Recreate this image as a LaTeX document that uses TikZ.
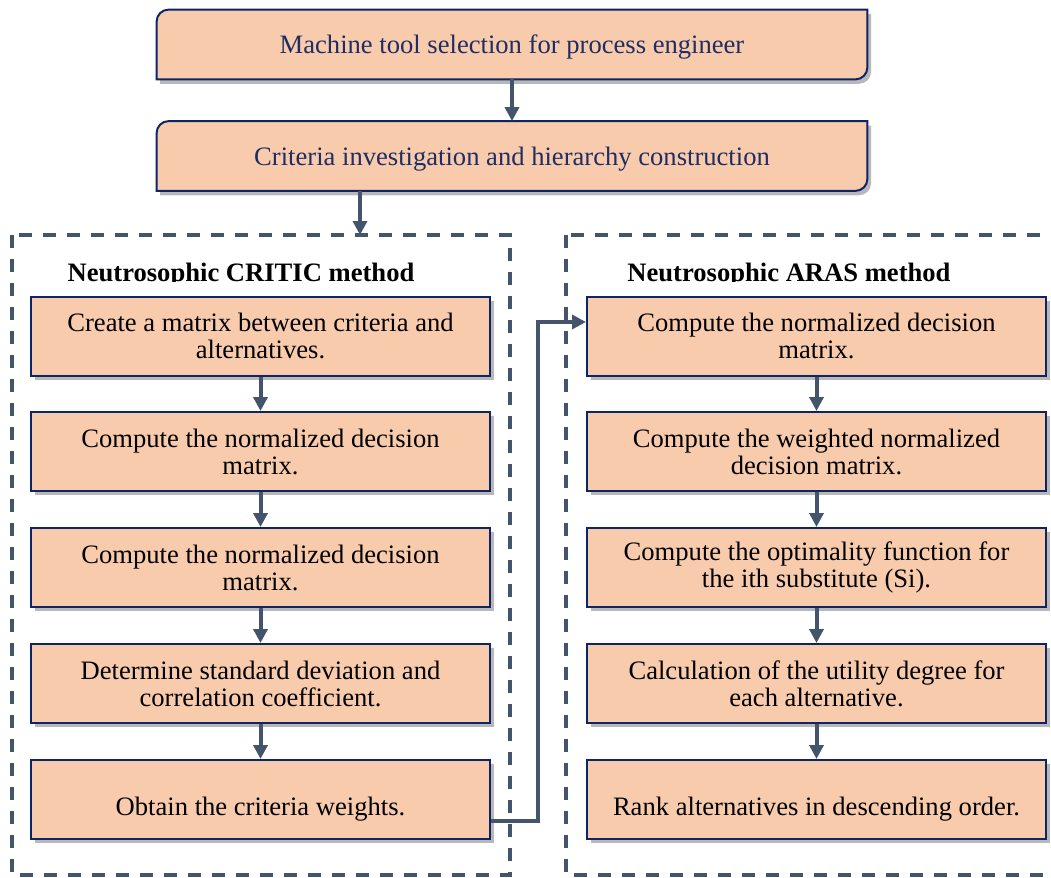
\documentclass[tikz,border=0pt]{standalone}
\usepackage{fontspec}
\setmainfont{Liberation Serif}
\usetikzlibrary{arrows.meta,shadows,backgrounds}
\definecolor{peach}{HTML}{F8CBAD}
\definecolor{navy}{HTML}{0B2566}
\definecolor{slate}{HTML}{44546A}
\definecolor{titleblue}{HTML}{1F2D63}
\tikzset{
  topbox/.style={minimum width=355pt, minimum height=34.5pt, text=titleblue,
    text depth=0pt, font=\fontsize{13.3}{14}\selectfont},
  topshape/.style={draw=navy, line width=1pt, fill=peach,
    drop shadow={shadow xshift=1.8pt, shadow yshift=-2.2pt, fill=black, opacity=.28}},
  stepbox/.style={draw=navy, line width=1pt, fill=peach, minimum width=229.5pt,
    minimum height=39.5pt, align=center, font=\fontsize{13.3}{13.5}\selectfont,
    drop shadow={shadow xshift=1.8pt, shadow yshift=-2.2pt, fill=black, opacity=.28}},
  header/.style={font=\fontsize{13.3}{14}\selectfont\bfseries, inner sep=0pt},
  flow/.style={slate, line width=2pt, -{Triangle[length=7pt,width=7pt]}},
  methodframe/.style={slate, line width=1.8pt, dash pattern=on 6.5pt off 5.5pt},
}
\begin{document}
\begin{tikzpicture}[x=0.5pt,y=-0.5pt]
  \useasboundingbox (0,0) rectangle (1051,878);
  %% title boxes
  \node[topbox] (task) at (512,44.5) {Machine tool selection for process engineer};
  \node[topbox] (crit) at (512,156) {Criteria investigation and hierarchy construction};
  \begin{scope}[on background layer]
    \foreach \b in {task,crit}
      \path[topshape] (\b.south west) [rounded corners=6pt] -- (\b.north west)
        [sharp corners] -- (\b.north east) [rounded corners=6pt] -- (\b.south east)
        [sharp corners] -- cycle;
  \end{scope}
  \draw[flow] (task) -- (crit);

  %% method frames
  \draw[methodframe] (12,235) rectangle (510,875);
  \draw[methodframe] (566,235) rectangle (1075,875);
  \coordinate (critin) at (360,235);
  \draw[flow] (crit.south -| critin) -- (critin);

  \begin{scope}
    \clip (0,245) rectangle (1051,281.5);
    \node[header, anchor=base] (hcritic) at (241,281) {Neutrosophic CRITIC method};
    \node[header, anchor=base] (haras) at (789,281) {Neutrosophic ARAS method};
  \end{scope}

  %% CRITIC steps
  \node[stepbox] (c1) at (260.5,336) {Create a matrix between criteria and\\alternatives.};
  \node[stepbox] (c2) at (260.5,451.5) {Compute the normalized decision\\matrix.};
  \node[stepbox] (c3) at (260.5,567.5) {Compute the normalized decision\\matrix.};
  \node[stepbox] (c4) at (260.5,683.5) {Determine standard deviation and\\correlation coefficient.};
  \node[stepbox] (c5) at (260.5,799.5) {\strut\\[-4.5pt]Obtain the criteria weights.};

  %% ARAS steps
  \node[stepbox] (a1) at (816.5,336) {Compute the normalized decision\\matrix.};
  \node[stepbox] (a2) at (816.5,451.5) {Compute the weighted normalized\\decision matrix.};
  \node[stepbox] (a3) at (816.5,567.5) {Compute the optimality function for\\the ith substitute (Si).};
  \node[stepbox] (a4) at (816.5,683.5) {Calculation of the utility degree for\\each alternative.};
  \node[stepbox] (a5) at (816.5,799.5) {\strut\\[-4.5pt]Rank alternatives in descending order.};

  \foreach \i/\j in {1/2,2/3,3/4,4/5}{
    \draw[flow] (c\i) -- (c\j);
    \draw[flow] (a\i) -- (a\j);
  }

  %% weights into ARAS
  \coordinate (link) at (538,0);
  \draw[flow] ([yshift=-10.5pt]c5.east) -- ([yshift=-10.5pt]c5.east -| link)
    -- ([yshift=7pt]a1.west -| link) -- ([yshift=7pt]a1.west);
\end{tikzpicture}
\end{document}
